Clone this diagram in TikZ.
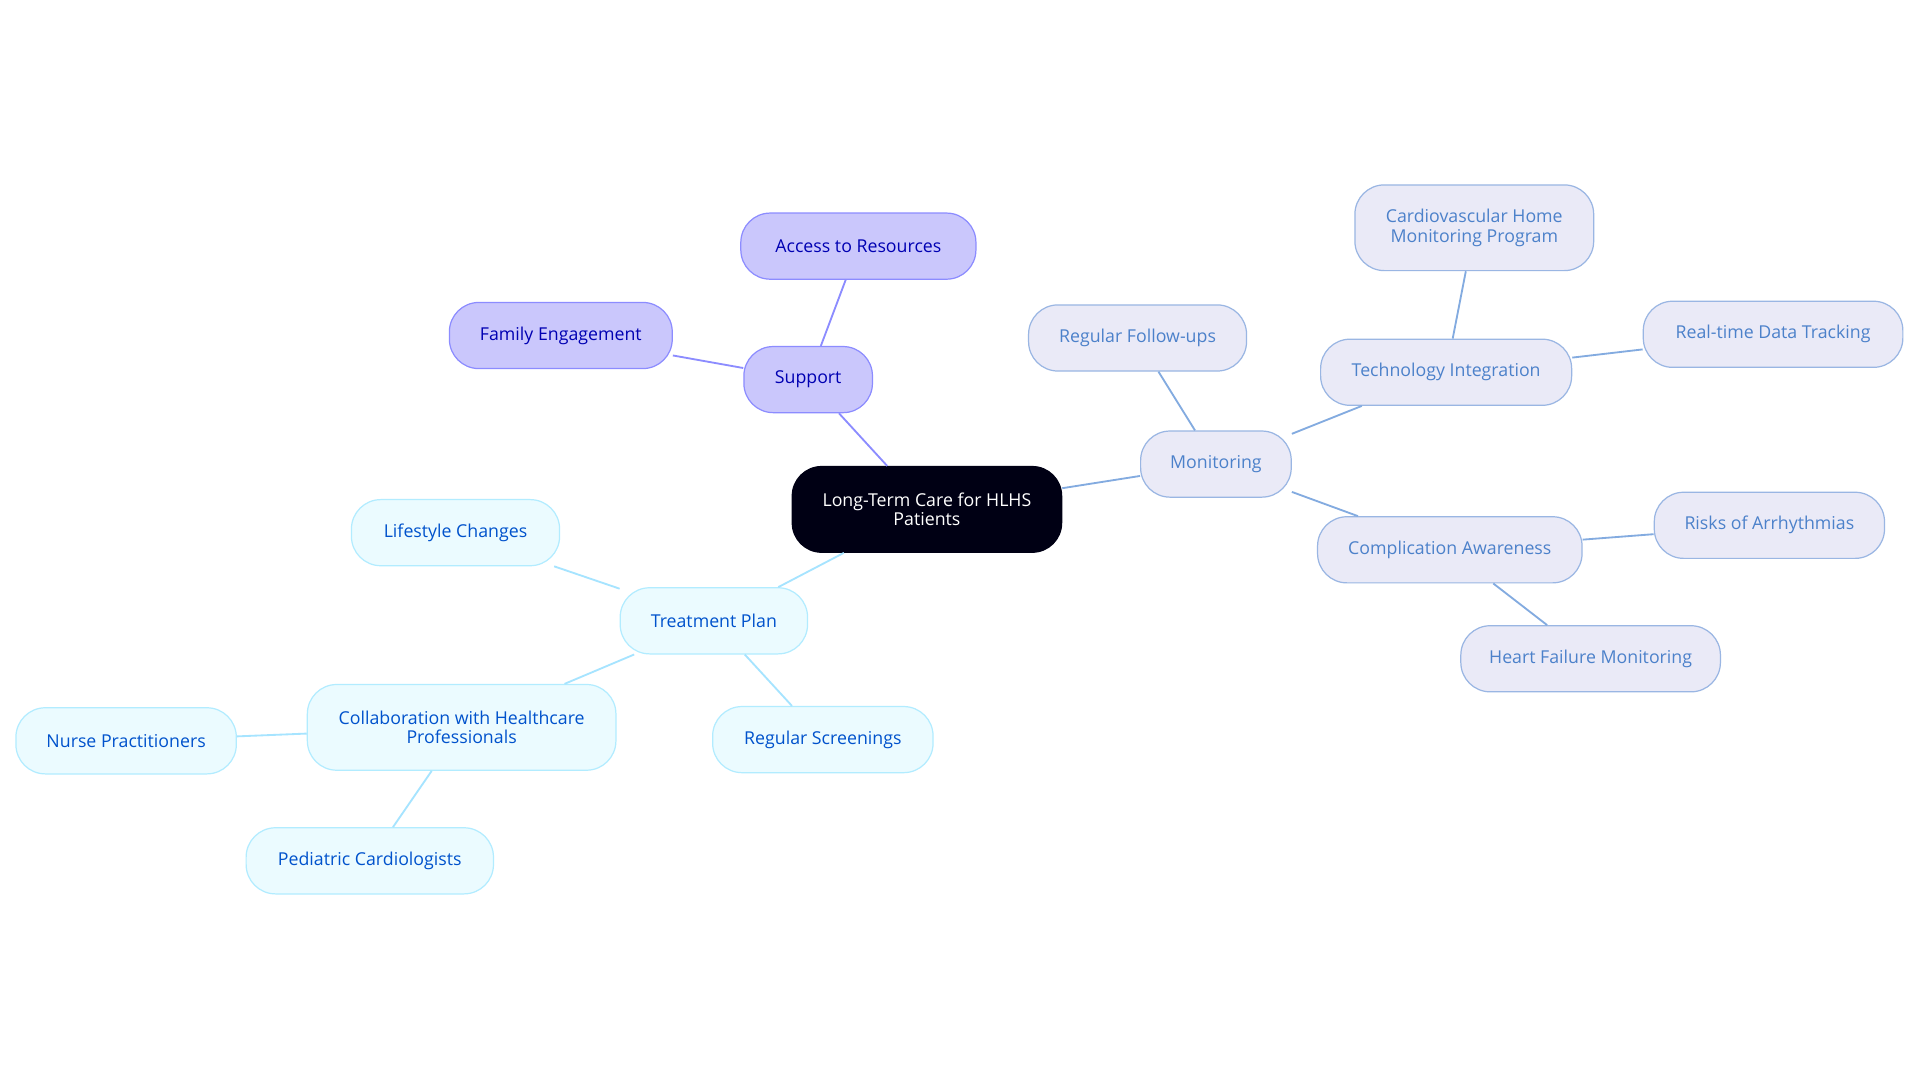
\documentclass[tikz,border=0pt]{standalone}
\usepackage{fontspec}
\setmainfont{Open Sans}
\begin{document}
\begin{tikzpicture}[x=1pt,y=-1pt,
 base/.style={rounded corners=24pt,line width=1pt,align=center,inner sep=0pt,font=\fontsize{14.5}{16}\selectfont},
 ctr/.style={base,fill=black!92!blue,draw=black!92!blue,text=white},
 sup/.style={base,fill=violet!10!blue!22,draw=blue!45,text=blue!70!black},
 mon/.style={base,fill=cyan!25!blue!8,draw=cyan!50!blue!40,text=cyan!45!blue!75},
 trt/.style={base,fill=blue!18!cyan!8,draw=blue!25!cyan!30,text=blue!60!cyan!80!black},
 es/.style={draw=blue!45,line width=1.5pt},
 em/.style={draw=cyan!55!blue!50,line width=1.5pt},
 et/.style={draw=blue!30!cyan!35,line width=1.5pt}]
\useasboundingbox (0,0) rectangle (1568,884);
\fill[white] (0,0) rectangle (1568,884);
\node[ctr,minimum width=220,minimum height=70] (c) at (757,416) {Long-Term Care for HLHS\\Patients};
\node[sup,minimum width=105,minimum height=54] (s) at (660,310) {Support};
\node[sup,minimum width=192,minimum height=54] (ar) at (701,201) {Access to Resources};
\node[sup,minimum width=182,minimum height=54] (fe) at (458,274) {Family Engagement};
\node[mon,minimum width=123,minimum height=54] (m) at (993,379) {Monitoring};
\node[mon,minimum width=178,minimum height=54] (rf) at (929,276) {Regular Follow-ups};
\node[mon,minimum width=205,minimum height=54] (ti) at (1181,304) {Technology Integration};
\node[mon,minimum width=195,minimum height=70] (ch) at (1204,186) {Cardiovascular Home\\Monitoring Program};
\node[mon,minimum width=212,minimum height=54] (rt) at (1448,273) {Real-time Data Tracking};
\node[mon,minimum width=216,minimum height=54] (ca) at (1184,449) {Complication Awareness};
\node[mon,minimum width=188,minimum height=54] (ra) at (1445,429) {Risks of Arrhythmias};
\node[mon,minimum width=212,minimum height=54] (hf) at (1299,538) {Heart Failure Monitoring};
\node[trt,minimum width=153,minimum height=54] (t) at (583,507) {Treatment Plan};
\node[trt,minimum width=170,minimum height=54] (lc) at (372,435) {Lifestyle Changes};
\node[trt,minimum width=252,minimum height=70] (co) at (377,594) {Collaboration with Healthcare\\Professionals};
\node[trt,minimum width=180,minimum height=54] (np) at (103,605) {Nurse Practitioners};
\node[trt,minimum width=202,minimum height=54] (pc) at (302,703) {Pediatric Cardiologists};
\node[trt,minimum width=180,minimum height=54] (rs) at (672,604) {Regular Screenings};
\draw[es] (c) -- (s); \draw[es] (s) -- (ar); \draw[es] (s) -- (fe);
\draw[em] (c) -- (m); \draw[em] (m) -- (rf); \draw[em] (m) -- (ti); \draw[em] (m) -- (ca);
\draw[em] (ti) -- (ch); \draw[em] (ti) -- (rt); \draw[em] (ca) -- (ra); \draw[em] (ca) -- (hf);
\draw[et] (c) -- (t); \draw[et] (t) -- (lc); \draw[et] (t) -- (co); \draw[et] (t) -- (rs);
\draw[et] (co) -- (np); \draw[et] (co) -- (pc);
\end{tikzpicture}
\end{document}
